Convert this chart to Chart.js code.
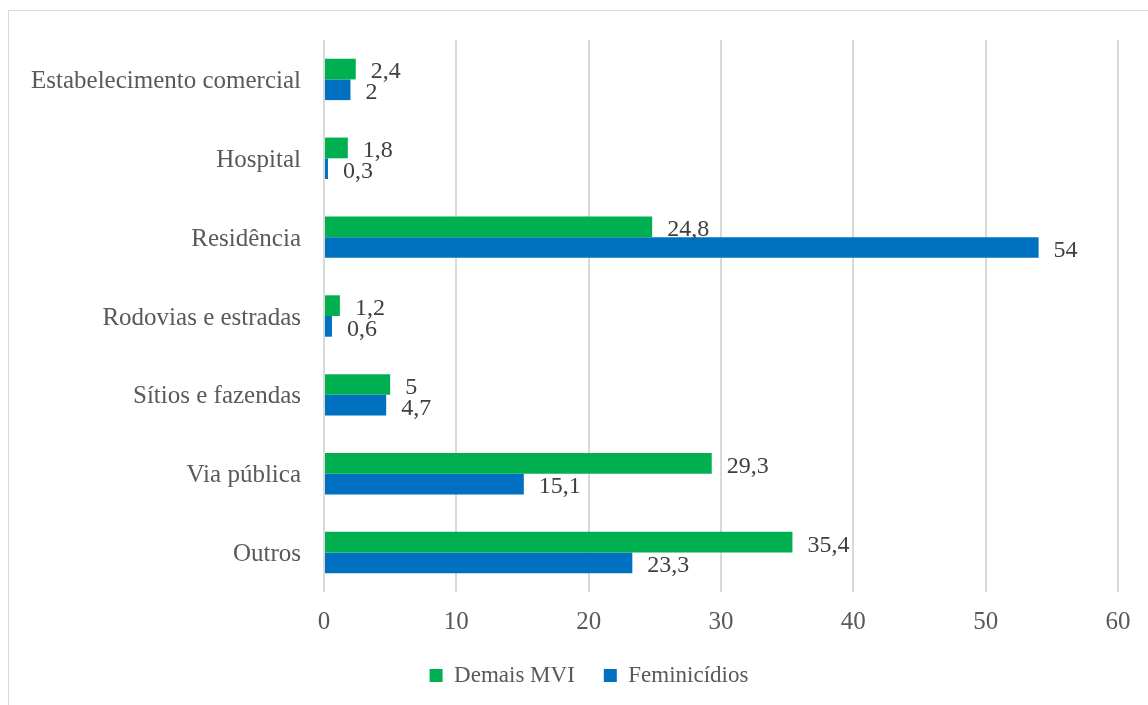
<!DOCTYPE html>
<html>
<head>
<meta charset="utf-8">
<script src="https://cdn.jsdelivr.net/npm/chart.js@4.4.1/dist/chart.umd.min.js"></script>
<style>
  html, body { margin: 0; padding: 0; background: #fff; overflow: hidden; }
  #frame { position: absolute; left: 8px; top: 10px; width: 1400px; height: 1000px; border: 1px solid #d9d9d9; }
  #wrap { position: absolute; left: 0; top: 0; width: 1148px; height: 705px; }
</style>
</head>
<body>
<div id="frame"></div>
<div id="wrap"><canvas id="myChart" width="1148" height="705"></canvas></div>
<script>
var categories = ['Estabelecimento comercial', 'Hospital', 'Residência', 'Rodovias e estradas', 'Sítios e fazendas', 'Via pública', 'Outros'];
var demaisMVI = [2.4, 1.8, 24.8, 1.2, 5, 29.3, 35.4];
var feminicidios = [2, 0.3, 54, 0.6, 4.7, 15.1, 23.3];
var xMin = 0, xMax = 60, xStep = 10;

var serif = '"Liberation Serif", "Times New Roman", serif';

// value labels drawn just past the end of each bar, comma as decimal mark
var valueLabels = {
  id: 'valueLabels',
  afterDatasetsDraw: function(chart) {
    var ctx = chart.ctx;
    ctx.save();
    ctx.font = '24px ' + serif;
    ctx.fillStyle = '#404040';
    ctx.textAlign = 'left';
    ctx.textBaseline = 'middle';
    chart.data.datasets.forEach(function(ds, i) {
      chart.getDatasetMeta(i).data.forEach(function(bar, j) {
        ctx.fillText(String(ds.data[j]).replace('.', ','), bar.x + 15, bar.y + 3);
      });
    });
    ctx.restore();
  }
};

// legend sits a bit right of the canvas centre in the original
var shiftLegend = {
  id: 'shiftLegend',
  afterLayout: function(chart) {
    chart.legend.left += 30;
    chart.legend.right += 30;
  }
};

document.addEventListener("DOMContentLoaded", function(event) {
  var ctx = document.getElementById('myChart').getContext('2d');

  var myBarChart = new Chart(ctx, {
    type: 'bar',
    data: {
      labels: categories,
      datasets: [
        { label: 'Demais MVI', data: demaisMVI, backgroundColor: '#00B050' },
        { label: 'Feminicídios', data: feminicidios, backgroundColor: '#0070C0' }
      ]
    },
    options: {
      indexAxis: 'y',
      responsive: false,
      animation: false,
      categoryPercentage: 0.525,
      barPercentage: 1,
      layout: { padding: { left: 0, right: 30, top: 40, bottom: 8 } },
      plugins: {
        legend: {
          position: 'bottom',
          labels: {
            boxWidth: 13,
            boxHeight: 13,
            padding: 29,
            color: '#595959',
            font: { family: serif, size: 23 }
          }
        },
        tooltip: { enabled: false }
      },
      scales: {
        x: {
          min: xMin,
          max: xMax,
          ticks: {
            stepSize: xStep,
            padding: 15,
            color: '#595959',
            font: { family: serif, size: 25 }
          },
          grid: { color: '#d9d9d9', lineWidth: 2, drawTicks: false },
          border: { display: false },
          afterFit: function(scale) { scale.height = 43; }
        },
        y: {
          ticks: {
            padding: 23,
            labelOffset: 2,
            color: '#595959',
            font: { family: serif, size: 25 }
          },
          grid: { display: false, drawTicks: false },
          border: { display: false },
          afterFit: function(scale) { scale.width = 324; }
        }
      }
    },
    plugins: [valueLabels, shiftLegend]
  });
});
</script>
</body>
</html>
